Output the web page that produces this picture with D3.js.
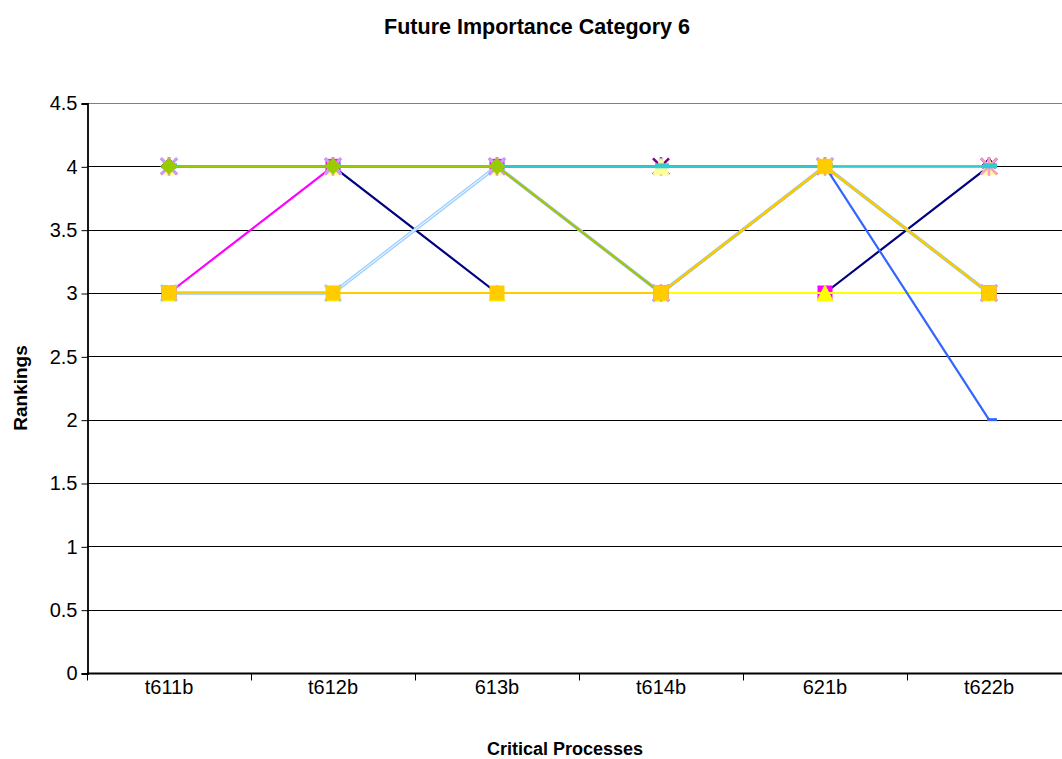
<!DOCTYPE html>
<html>
<head>
<meta charset="utf-8">
<script src="https://cdn.jsdelivr.net/npm/d3@7"></script>
<style>
  html, body { margin: 0; padding: 0; background: #fff; }
  svg { display: block; font-family: "Liberation Sans", Arial, sans-serif; }
</style>
</head>
<body>
<svg id="chart" width="1062" height="759"></svg>
<script>
// Categories (critical processes) and tick values
const categories = ["t611b", "t612b", "613b", "t614b", "621b", "t622b"];
const yTicks = [0, 0.5, 1, 1.5, 2, 2.5, 3, 3.5, 4, 4.5];

// Series rankings, listed in drawing order (later series sit on top)
const s01 = [4, 4, 3, 3, 3, 4];
const s02 = [3, 4, 4, 3, 3, 3];
const s03 = [3, 3, 3, 3, 3, 3];
const s05 = [4, 4, 4, 4, 4, 4];
const s12 = [4, 4, 4, 4, 4, 4];
const s13 = [3, 3, 4, 3, 4, 3];
const s14 = [4, 4, 4, 3, 4, 4];
const s15 = [4, 4, 4, 3, 4, 3];
const s17 = [4, 4, 4, 4, 4, 2];
const s18 = [4, 4, 4, 4, 4, 4];
const s19 = [4, 4, 4, 3, 4, 3];
const s20 = [3, 3, 3, 3, 4, 3];

const seriesColors = ["#000080", "#FF00FF", "#FFFF00", "#800080", "#FFFF99", "#99CCFF",
                      "#FF99CC", "#CC99FF", "#3366FF", "#33CCCC", "#99CC00", "#FFCC00"];
const seriesMarkers = ["diamond", "square", "triangle", "star", "triangle", "x",
                       "star", "x", "dash", "longdash", "diamond", "square"];
const seriesValues = [s01, s02, s03, s05, s12, s13, s14, s15, s17, s18, s19, s20];

const svg = d3.select("#chart");
const plotLeft = 87, plotTop = 103, plotBottom = 673, bandW = 164;

const x = d3.scaleBand().domain(categories).range([plotLeft, plotLeft + bandW * categories.length]).padding(0);
const y = d3.scaleLinear().domain([0, 4.5]).range([plotBottom, plotTop]);
const cx = c => x(c) + x.bandwidth() / 2;

// Horizontal gridlines
svg.append("g").selectAll("line")
  .data(yTicks.filter(t => t > 0 && t < 4.5))
  .join("line")
  .attr("x1", plotLeft).attr("x2", 1062)
  .attr("y1", d => Math.round(y(d)) + 0.5).attr("y2", d => Math.round(y(d)) + 0.5)
  .attr("stroke", "#000").attr("stroke-width", 1);

// Plot area top border
svg.append("line")
  .attr("x1", plotLeft).attr("x2", 1062)
  .attr("y1", Math.round(y(4.5)) + 0.5).attr("y2", Math.round(y(4.5)) + 0.5)
  .attr("stroke", "#808080").attr("stroke-width", 1);

// Y axis
const yAxis = d3.axisLeft(y).tickValues(yTicks).tickSize(6).tickPadding(4)
  .tickFormat(d => d3.format("")(d));
const gy = svg.append("g").attr("transform", `translate(${plotLeft + 0.5},0.5)`).call(yAxis);
gy.select(".domain").attr("stroke", "#000").attr("stroke-width", 1.8);
gy.selectAll(".tick line").attr("stroke", "#000");
gy.selectAll(".tick text").attr("font-size", 20).attr("fill", "#000")
  .attr("font-family", "'Liberation Sans', Arial, sans-serif");

// X axis with ticks on the category boundaries
const gx = svg.append("g").attr("transform", `translate(0,${plotBottom + 0.5})`);
gx.append("line").attr("x1", plotLeft).attr("x2", 1062).attr("stroke", "#000").attr("stroke-width", 1.8);
gx.selectAll("line.tk")
  .data(categories.map(c => x(c)).concat([x.range()[1]]))
  .join("line").attr("class", "tk")
  .attr("x1", d => d + 0.5).attr("x2", d => d + 0.5)
  .attr("y1", 0).attr("y2", 7).attr("stroke", "#000");
gx.selectAll("text")
  .data(categories)
  .join("text")
  .attr("x", d => cx(d)).attr("y", 6)
  .attr("dy", "0.71em")
  .attr("text-anchor", "middle")
  .attr("font-size", 20).attr("fill", "#000")
  .text(d => d);

// Series lines and markers
const line = d3.line().x((d, i) => cx(categories[i])).y(d => y(d));

function drawMarker(g, type, px, py, color) {
  if (type === "diamond") {
    g.append("path").attr("d", `M${px},${py - 8}L${px + 8},${py}L${px},${py + 8}L${px - 8},${py}Z`)
      .attr("fill", color).attr("stroke", color);
  } else if (type === "square") {
    g.append("rect").attr("x", px - 7).attr("y", py - 7).attr("width", 14).attr("height", 14)
      .attr("fill", color).attr("stroke", color);
  } else if (type === "triangle") {
    g.append("path").attr("d", `M${px},${py - 8}L${px + 8},${py + 8}L${px - 8},${py + 8}Z`)
      .attr("fill", color).attr("stroke", color);
  } else if (type === "x") {
    g.append("path").attr("d", `M${px - 8},${py - 8}L${px + 8},${py + 8}M${px + 8},${py - 8}L${px - 8},${py + 8}`)
      .attr("stroke", color).attr("stroke-width", 3).attr("fill", "none");
  } else if (type === "star") {
    g.append("path").attr("d", `M${px - 8},${py - 8}L${px + 8},${py + 8}M${px + 8},${py - 8}L${px - 8},${py + 8}M${px},${py - 9}L${px},${py + 9}`)
      .attr("stroke", color).attr("stroke-width", 2.5).attr("fill", "none");
  } else if (type === "dash") {
    g.append("rect").attr("x", px - 2).attr("y", py - 1.5).attr("width", 10).attr("height", 3)
      .attr("fill", color);
  } else if (type === "longdash") {
    g.append("rect").attr("x", px - 6).attr("y", py - 3).attr("width", 14).attr("height", 5)
      .attr("fill", color);
  }
}

seriesValues.forEach((vals, k) => {
  const g = svg.append("g");
  const color = seriesColors[k];
  if (color === "#99CCFF") {
    g.append("path").attr("d", line(vals)).attr("fill", "none")
      .attr("stroke", color).attr("stroke-width", 3.5);
    g.append("path").attr("d", line(vals)).attr("fill", "none")
      .attr("stroke", "#E4F4FF").attr("stroke-width", 1.2);
  } else {
    g.append("path").attr("d", line(vals)).attr("fill", "none")
      .attr("stroke", color).attr("stroke-width", 2.2);
  }
  vals.forEach((v, i) => drawMarker(g, seriesMarkers[k], cx(categories[i]), y(v), color));
});

// Titles
svg.append("text").attr("x", 537).attr("y", 34).attr("text-anchor", "middle")
  .attr("font-size", 21.5).attr("font-weight", "bold").attr("fill", "#000")
  .text("Future Importance Category 6");
svg.append("text").attr("x", 565).attr("y", 755).attr("text-anchor", "middle")
  .attr("font-size", 18).attr("font-weight", "bold").attr("fill", "#000")
  .text("Critical Processes");
svg.append("text").attr("transform", "translate(27,388) rotate(-90)").attr("text-anchor", "middle")
  .attr("font-size", 19).attr("font-weight", "bold").attr("fill", "#000")
  .text("Rankings");
</script>
</body>
</html>
